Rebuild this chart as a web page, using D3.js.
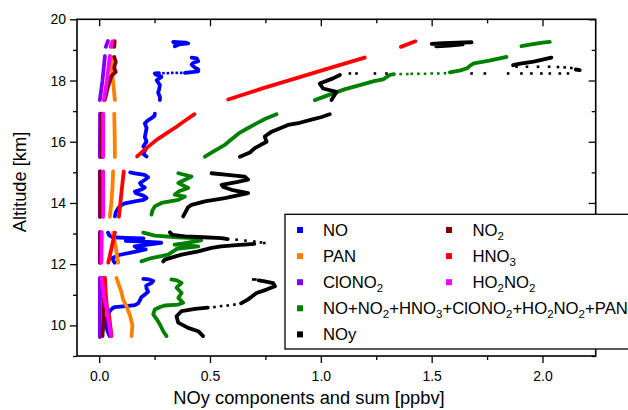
<!DOCTYPE html>
<html><head><meta charset="utf-8">
<script src="https://cdn.jsdelivr.net/npm/d3@7"></script>
<style>body{margin:0;background:#fff}svg{display:block;font-family:"Liberation Sans",Arial,sans-serif}</style>
</head><body><svg id="c" width="628" height="410"></svg>
<script>
// ---- data: each series = list of segments, each point [value ppbv, altitude km]
const NO = [
 [[0.048,9.65],[0.041,9.76],[0.033,9.92],[0.03,10.05],[0.033,10.2],[0.04,10.35],[0.048,10.47],[0.06,10.56],[0.071,10.6],[0.12,10.63],[0.161,10.66],[0.176,10.72],[0.184,10.82],[0.19,10.92],[0.199,10.97],[0.221,11.1],[0.214,11.2],[0.212,11.3],[0.235,11.38],[0.244,11.45],[0.225,11.5],[0.199,11.52]],
 [[0.07,12.05],[0.065,12.1],[0.06,12.2],[0.09,12.3],[0.17,12.42],[0.21,12.48],[0.17,12.54],[0.16,12.58],[0.22,12.64],[0.28,12.7],[0.2,12.74],[0.12,12.76],[0.17,12.8],[0.2,12.84],[0.12,12.86],[0.06,12.88],[0.045,12.95],[0.04,13.03]],
 [[0.071,13.56],[0.075,13.7],[0.086,13.83],[0.1,13.93],[0.116,13.99],[0.161,14.05],[0.2,14.1],[0.214,14.16],[0.199,14.24],[0.165,14.32],[0.161,14.37],[0.19,14.44],[0.206,14.5],[0.19,14.58],[0.184,14.65],[0.205,14.75],[0.221,14.84],[0.205,14.92],[0.161,14.97],[0.14,15.0]],
 [[0.214,15.52],[0.199,15.6],[0.21,15.75],[0.199,15.85],[0.214,16.0],[0.206,16.15],[0.21,16.3],[0.214,16.45],[0.206,16.6],[0.22,16.7],[0.236,16.77],[0.25,16.85],[0.251,16.92]],
 [[0.274,17.36],[0.274,17.47],[0.266,17.6],[0.27,17.7],[0.274,17.85],[0.259,18.01],[0.281,18.12],[0.255,18.2],[0.251,18.23],[0.27,18.24]],
 [[0.387,18.25],[0.447,18.3],[0.447,18.36],[0.432,18.42],[0.417,18.52],[0.425,18.58],[0.447,18.63],[0.44,18.72],[0.417,18.75]],
 [[0.341,19.12],[0.36,19.18],[0.402,19.21],[0.39,19.24],[0.334,19.26],[0.345,19.22]]
];
const NODots = [[0.29,18.24],[0.31,18.24],[0.33,18.25],[0.35,18.25],[0.37,18.25]];
const PAN = [
 [[0.078,11.55],[0.09,11.3],[0.1,11.1],[0.108,10.85],[0.125,10.6],[0.14,10.3],[0.15,10.0],[0.148,9.8],[0.146,9.65]],
 [[0.086,12.05],[0.08,12.3],[0.075,12.55],[0.068,12.8],[0.063,13.03]],
 [[0.048,13.55],[0.055,14.0],[0.06,14.5],[0.063,15.03]],
 [[0.071,15.5],[0.07,16.2],[0.068,16.92]],
 [[0.071,17.36],[0.065,17.8],[0.058,18.3],[0.053,18.8]],
 [[0.06,19.1],[0.065,19.28]]
];
const ClONO2 = [
 [[0.003,9.62],[0.003,11.55]],
 [[0.003,12.05],[0.003,13.05]],
 [[0.003,13.55],[0.003,15.03]],
 [[0.003,15.5],[0.004,16.92]],
 [[0.003,17.36],[0.015,18.0],[0.026,18.8]],
 [[0.03,19.1],[0.04,19.29]]
];
const SUM = [
 [[0.304,9.65],[0.289,9.81],[0.274,10.03],[0.26,10.2],[0.244,10.36],[0.251,10.52],[0.275,10.6],[0.296,10.65],[0.357,10.68],[0.379,10.74],[0.357,10.9],[0.372,11.06],[0.349,11.23],[0.372,11.39],[0.35,11.47],[0.326,11.5]],
 [[0.191,12.09],[0.236,12.2],[0.28,12.26],[0.311,12.31],[0.341,12.45],[0.35,12.5],[0.447,12.58],[0.34,12.64],[0.38,12.68],[0.46,12.78],[0.432,12.85],[0.35,12.88],[0.251,12.93],[0.199,13.03]],
 [[0.236,13.62],[0.24,13.75],[0.251,13.89],[0.281,14.0],[0.357,14.1],[0.387,14.21],[0.341,14.27],[0.36,14.38],[0.402,14.49],[0.357,14.65],[0.387,14.76],[0.417,14.86],[0.38,14.93],[0.357,14.97]],
 [[0.477,15.51],[0.52,15.7],[0.567,15.9],[0.6,16.1],[0.635,16.3],[0.66,16.4],[0.71,16.6],[0.75,16.75],[0.8,16.9]],
 [[0.973,17.36],[1.055,17.58],[1.11,17.72],[1.176,17.85],[1.24,17.98],[1.281,18.04],[1.311,18.18],[1.33,18.21]],
 [[1.582,18.27],[1.63,18.33],[1.66,18.4],[1.672,18.48],[1.69,18.56],[1.76,18.65],[1.838,18.77]],
 [[1.905,19.12],[1.95,19.18],[2.0,19.24],[2.033,19.26]]
];
const SUMDots = [[1.36,18.21],[1.39,18.21],[1.41,18.22],[1.44,18.22],[1.47,18.22],[1.5,18.23],[1.53,18.23],[1.56,18.24]];
const NOy = [
 [[0.469,9.65],[0.447,9.81],[0.401,9.92],[0.357,10.09],[0.349,10.3],[0.372,10.47],[0.432,10.54],[0.49,10.58]],
 [[0.64,10.72],[0.672,10.85],[0.71,11.06],[0.755,11.17],[0.793,11.28],[0.785,11.38],[0.747,11.44],[0.72,11.47]],
 [[0.319,13.04],[0.33,12.96],[0.387,12.91],[0.47,12.88],[0.552,12.85],[0.58,12.82]],
 [[0.7,12.66],[0.62,12.62],[0.55,12.58],[0.507,12.53],[0.447,12.42],[0.372,12.31],[0.33,12.22],[0.296,12.15],[0.289,12.09]],
 [[0.379,13.56],[0.387,13.67],[0.4,13.85],[0.417,13.94],[0.477,14.05],[0.567,14.16],[0.672,14.32],[0.597,14.43],[0.56,14.52],[0.552,14.59],[0.62,14.68],[0.672,14.76],[0.657,14.86],[0.58,14.92],[0.507,14.97]],
 [[0.635,15.51],[0.68,15.65],[0.702,15.79],[0.755,16.0],[0.747,16.17],[0.778,16.33],[0.852,16.55],[0.905,16.62],[0.958,16.72],[1.0,16.8],[1.04,16.9]],
 [[1.048,17.36],[1.071,17.63],[1.01,17.74],[0.995,17.9],[1.055,18.07],[1.086,18.18]],
 [[1.867,18.5],[1.9,18.55],[1.96,18.62],[2.0,18.68],[2.04,18.75]],
 [[2.15,18.36],[2.168,18.34]],
 [[1.52,19.12],[1.58,19.14],[1.64,19.18],[1.5,19.2],[1.55,19.22],[1.68,19.25]]
];
const NOyDots = [[0.52,10.6],[0.55,10.63],[0.58,10.65],[0.61,10.68],[0.695,11.5],[0.705,11.5],
 [0.62,12.8],[0.66,12.77],[0.7,12.74],[0.73,12.71],[0.745,12.69],
 [1.131,18.23],[1.161,18.23],[1.244,18.23],[1.296,18.23],[1.68,18.23],[1.74,18.23],[1.845,18.23],[1.905,18.23],[1.95,18.23],[1.995,18.23],[2.033,18.23],[2.078,18.23],[2.115,18.23],
 [1.883,18.45],[1.93,18.45],[1.98,18.45],[2.03,18.45],[2.07,18.44],[2.1,18.43],[2.13,18.41]];
const NO2 = [
 [[0.015,9.65],[0.02,10.2],[0.02,10.8],[0.015,11.55]],
 [[0.005,12.05],[0.005,13.05]],
 [[0.005,13.55],[0.005,15.03]],
 [[0.011,15.5],[0.011,16.92]],
 [[0.025,17.36],[0.04,17.8],[0.055,18.15],[0.075,18.28],[0.068,18.4],[0.07,18.5],[0.075,18.6],[0.068,18.77]],
 [[0.068,19.1],[0.07,19.29]]
];
const HNO3 = [
 [[0.056,9.65],[0.05,10.0],[0.045,10.3],[0.035,10.6],[0.03,11.0],[0.026,11.55]],
 [[0.041,12.05],[0.055,12.5],[0.071,13.03]],
 [[0.089,13.55],[0.1,14.3],[0.111,15.03]],
 [[0.171,15.52],[0.215,15.8],[0.259,16.06],[0.305,16.28],[0.349,16.49],[0.39,16.7],[0.43,16.9]],
 [[0.582,17.38],[0.74,17.75],[0.905,18.11],[1.05,18.43],[1.198,18.75]],
 [[1.361,19.1],[1.427,19.28]]
];
const HO2NO2 = [
 [[0.011,11.55],[0.02,11.0],[0.035,10.5],[0.045,10.0],[0.053,9.65]],
 [[0.01,12.05],[0.012,13.05]],
 [[0.018,13.55],[0.018,15.03]],
 [[0.018,15.5],[0.018,16.92]],
 [[0.021,17.36],[0.035,18.0],[0.048,18.8]],
 [[0.052,19.1],[0.06,19.28]]
];
const xTicks = [0.0, 0.5, 1.0, 1.5, 2.0];
const yTicks = [10, 12, 14, 16, 18, 20];
const seriesNames = ["NO","PAN","ClONO_2","NO+NO_2+HNO_3+ClONO_2+HO_2NO_2+PAN","NOy","NO_2","HNO_3","HO_2NO_2"];
const seriesColors = ["#0000ff","#ff8000","#8000ff","#008000","#000000","#800000","#ff0000","#ff00ff"];
const seriesData = [NO, PAN, ClONO2, SUM, NOy, NO2, HNO3, HO2NO2];
const seriesDots = [NODots, [], [], SUMDots, NOyDots, [], [], []];

// ---- drawing
const svg = d3.select("#c");
const L=77, R=595.7, T=19.3, B=356;
const x = d3.scaleLinear().domain([-0.1, 2.24]).range([L, R]);
const y = d3.scaleLinear().domain([9, 20]).range([B, T]);
const line = d3.line().x(d=>x(d[0])).y(d=>y(d[1]));

const plot = svg.append("g");
seriesData.forEach((segs,i)=>{
  plot.selectAll(null).data(segs).enter().append("path")
    .attr("d", line).attr("fill","none").attr("stroke", seriesColors[i])
    .attr("stroke-width",3.8).attr("stroke-linecap","round").attr("stroke-linejoin","round");
  plot.selectAll(null).data(seriesDots[i]).enter().append("rect")
    .attr("x",d=>x(d[0])-1.3).attr("y",d=>y(d[1])-1.3).attr("width",2.6).attr("height",2.6)
    .attr("fill", seriesColors[i]);
});

// axes
const fmt = d3.format(".1f");
const xMinor = d3.range(0.25, 2.24, 0.5);
const yMinor = [9,11,13,15,17,19];
const bottom = svg.append("g").attr("transform",`translate(0,${B})`)
  .call(d3.axisBottom(x).tickValues(xTicks).tickFormat(fmt).tickSize(7).tickSizeOuter(0));
svg.append("g").attr("transform",`translate(0,${B})`)
  .call(d3.axisBottom(x).tickValues(xMinor).tickFormat("").tickSize(4).tickSizeOuter(0));
const left = svg.append("g").attr("transform",`translate(${L},0)`)
  .call(d3.axisLeft(y).tickValues(yTicks).tickSize(7).tickSizeOuter(0));
svg.append("g").attr("transform",`translate(${L},0)`)
  .call(d3.axisLeft(y).tickValues(yMinor).tickFormat("").tickSize(4).tickSizeOuter(0));
svg.append("g").attr("transform",`translate(0,${T})`)
  .call(d3.axisBottom(x).tickValues(xTicks).tickFormat("").tickSize(7).tickSizeOuter(0));
svg.append("g").attr("transform",`translate(0,${T})`)
  .call(d3.axisBottom(x).tickValues(xMinor).tickFormat("").tickSize(4).tickSizeOuter(0));
svg.append("g").attr("transform",`translate(${R},0)`)
  .call(d3.axisLeft(y).tickValues(yTicks).tickFormat("").tickSize(7).tickSizeOuter(0));
svg.append("g").attr("transform",`translate(${R},0)`)
  .call(d3.axisLeft(y).tickValues(yMinor).tickFormat("").tickSize(4).tickSizeOuter(0));
svg.selectAll(".domain").remove();
svg.selectAll(".tick line").attr("stroke","#000").attr("stroke-width",1.3);
svg.selectAll(".tick text").attr("font-size",14).attr("fill","#000").attr("font-family","Liberation Sans, Arial, sans-serif");
bottom.selectAll(".tick text").attr("dy","1.05em");
left.selectAll(".tick text").attr("x",-11);
svg.append("rect").attr("x",L).attr("y",T).attr("width",R-L).attr("height",B-T)
  .attr("fill","none").attr("stroke","#000").attr("stroke-width",1.6);

// axis titles
svg.append("text").attr("x",309).attr("y",404).attr("text-anchor","middle")
  .attr("font-size",18.3).text("NOy components and sum [ppbv]");
svg.append("text").attr("transform","translate(26,182) rotate(-90)").attr("text-anchor","middle")
  .attr("font-size",18.3).text("Altitude [km]");

// legend
function addLabel(g, s){
  const t = g.append("text").attr("font-size",16.7);
  s.split(/(_\d)/).forEach(p=>{
    if(!p) return;
    if(p[0]==="_") t.append("tspan").attr("font-size",11.5).attr("dy",4).text(p.slice(1));
    else { const sp=t.append("tspan").text(p); if(t.node().childNodes.length>1) sp.attr("dy",-4); }
  });
  return t;
}
const lg = svg.append("g");
lg.append("rect").attr("x",285).attr("y",214.3).attr("width",360).attr("height",134.7)
  .attr("fill","#fff").attr("stroke","#000").attr("stroke-width",1.3);
seriesNames.forEach((n,i)=>{
  const col = i<5?0:1, row = i<5?i:i-5;
  const mx = col===0?300:449, tx = col===0?323:472.5, cy = 230+row*26.1;
  lg.append("rect").attr("x",mx-3).attr("y",cy-3).attr("width",6).attr("height",6).attr("fill",seriesColors[i]);
  addLabel(lg, n).attr("x",tx).attr("y",cy+6);
});
</script></body></html>
